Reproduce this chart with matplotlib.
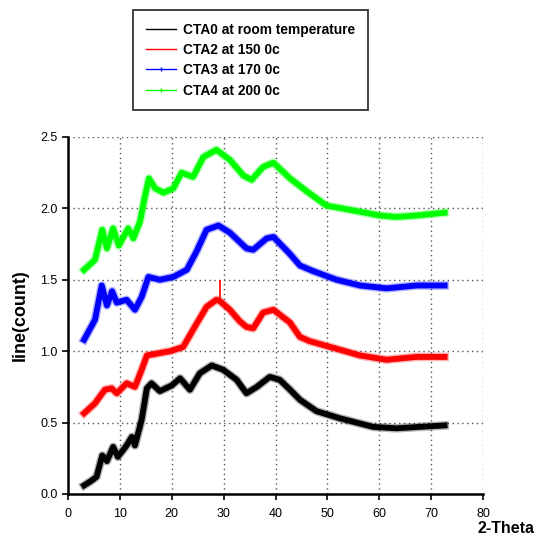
import matplotlib.pyplot as plt
from matplotlib.lines import Line2D

plt.rcParams["font.family"] = ["Liberation Sans", "DejaVu Sans"]

# XRD patterns, 2-theta (deg) vs intensity (counts, offset per sample)
cta0_x = [3.1, 4.4, 5.5, 6.6, 7.5, 8.7, 9.6, 11.3, 12.3, 12.9, 14.2, 15.2, 16.1,
          17.7, 20.0, 21.6, 23.5, 25.4, 27.7, 29.9, 32.5, 34.4, 36.4, 38.9,
          40.8, 42.8, 44.7, 47.9, 52.4, 58.8, 63.3, 67.8, 72.6]
cta0_y = [0.06, 0.09, 0.12, 0.27, 0.23, 0.33, 0.26, 0.34, 0.40, 0.34, 0.52, 0.74, 0.775,
          0.72, 0.76, 0.81, 0.73, 0.845, 0.90, 0.87, 0.80, 0.705, 0.75, 0.82,
          0.80, 0.73, 0.66, 0.58, 0.53, 0.47, 0.46, 0.47, 0.48]

cta2_x = [3.1, 5.2, 7.1, 8.4, 9.4, 11.3, 12.9, 14.2, 15.2, 17.4, 19.7, 22.2,
          24.1, 26.7, 28.6, 29.3, 31.2, 33.1, 34.4, 35.7, 37.6,
          39.6, 42.8, 44.7, 46.6, 50.5, 56.3, 61.4, 67.2, 72.6]
cta2_y = [0.565, 0.635, 0.73, 0.74, 0.705, 0.775, 0.75, 0.87, 0.97, 0.985, 1.0, 1.03,
          1.15, 1.31, 1.36, 1.35, 1.29, 1.21, 1.17, 1.16, 1.27,
          1.29, 1.20, 1.10, 1.07, 1.03, 0.97, 0.94, 0.96, 0.96]
# single sharp reflection on the CTA2 trace
cta2_spike_x = 29.3
cta2_spike_y = 1.50

cta3_x = [3.1, 5.2, 6.5, 7.5, 8.5, 9.4, 11.3, 12.9, 14.2, 15.5, 17.7, 20.3,
          22.9, 24.8, 26.7, 29.0, 31.2, 34.4, 35.7, 38.3, 39.6, 42.8, 44.7,
          47.3, 51.8, 56.3, 61.4, 67.2, 72.6]
cta3_y = [1.08, 1.22, 1.46, 1.32, 1.42, 1.34, 1.36, 1.29, 1.38, 1.52, 1.50, 1.52,
          1.57, 1.70, 1.85, 1.88, 1.83, 1.72, 1.71, 1.79, 1.80, 1.68, 1.60,
          1.56, 1.50, 1.46, 1.44, 1.46, 1.46]

cta4_x = [3.1, 5.2, 6.6, 7.5, 8.7, 9.8, 11.6, 12.6, 13.9, 14.8, 15.6, 16.8,
          18.4, 20.3, 21.9, 24.1, 26.1, 28.6, 31.2, 33.8, 35.4, 37.6, 39.6,
          42.8, 46.0, 49.8, 54.3, 60.1, 63.3, 67.2, 72.6]
cta4_y = [1.57, 1.64, 1.85, 1.72, 1.86, 1.74, 1.86, 1.79, 1.91, 2.08, 2.21, 2.14,
          2.11, 2.14, 2.25, 2.22, 2.36, 2.41, 2.34, 2.23, 2.20, 2.29, 2.32,
          2.21, 2.12, 2.02, 1.99, 1.95, 1.94, 1.95, 1.97]

labels = ["CTA0 at room temperature", "CTA2 at 150 0c",
          "CTA3 at 170 0c", "CTA4 at 200 0c"]
colors = ["black", "#ff0000", "#0000ff", "#00ff00"]
x_ticks = [0, 10, 20, 30, 40, 50, 60, 70, 80]
y_ticks = [0.0, 0.5, 1.0, 1.5, 2.0, 2.5]

fig = plt.figure(figsize=(5.38, 5.38), dpi=100)
ax = fig.add_axes([0.1264, 0.0818, 0.7714, 0.6636])

series = [(cta0_x, cta0_y), (cta2_x, cta2_y), (cta3_x, cta3_y), (cta4_x, cta4_y)]
for (xs, ys), c in zip(series, colors):
    # pale outer band plus solid core for the noisy-trace look
    ax.plot(xs, ys, color=c, lw=6.2, alpha=0.3, solid_joinstyle="round")
    ax.plot(xs, ys, color=c, lw=4.2, solid_joinstyle="round")

ax.vlines(cta2_spike_x, 1.34, cta2_spike_y, color=colors[1], lw=1.2)

ax.set_xlim(0, 80)
ax.set_ylim(0, 2.5)
ax.set_xticks(x_ticks)
ax.set_yticks(y_ticks)
ax.set_yticklabels([f"{v:.1f}" for v in y_ticks])
ax.tick_params(direction="out", length=4, width=1.2, labelsize=9, colors="black")
ax.tick_params(axis="x", pad=6)
ax.grid(True, linestyle=(0, (1, 2.5)), color="#555555", linewidth=1.0)
ax.set_axisbelow(True)

for side in ["top", "right"]:
    ax.spines[side].set_visible(False)
for side in ["left", "bottom"]:
    ax.spines[side].set_linewidth(1.8)

ax.set_ylabel("line(count)", fontsize=13, fontweight="bold", labelpad=8)
fig.text(0.993, 0.003, "2-Theta", ha="right", va="bottom",
         fontsize=11.5, fontweight="bold")

handles = [
    Line2D([], [], color=colors[0], lw=1.0),
    Line2D([], [], color=colors[1], lw=1.0),
    Line2D([], [], color=colors[2], lw=1.0, marker="|", markersize=3),
    Line2D([], [], color=colors[3], lw=1.0, marker="|", markersize=3),
]
leg = fig.legend(handles, labels, loc="upper left",
                 bbox_to_anchor=(0.2472, 0.9814), frameon=True, fancybox=False,
                 prop={"weight": "bold", "size": 9.9}, handlelength=2.2,
                 labelspacing=0.46, borderpad=0.92, handletextpad=0.55,
                 borderaxespad=0)
leg.get_frame().set_edgecolor("#333333")
leg.get_frame().set_linewidth(1.3)
leg.get_frame().set_alpha(1)

fig.savefig("out.png", dpi=100)
